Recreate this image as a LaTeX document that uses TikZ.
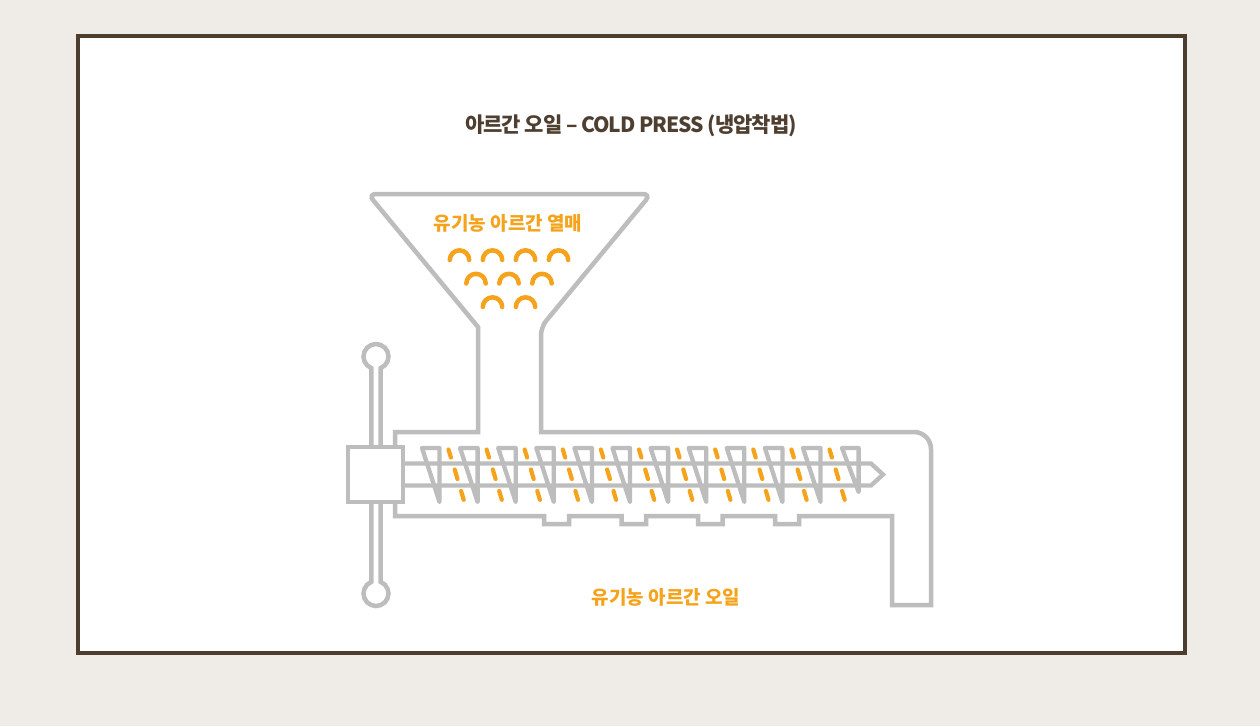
\documentclass[tikz,border=0pt]{standalone}
\usepackage{fontspec}
\newfontfamily\kr{Noto Sans CJK KR}
\newfontfamily\krt[LetterSpace=-5]{Noto Sans CJK KR}
\definecolor{bgc}{HTML}{EFECE7}
\definecolor{framec}{HTML}{4C3D2E}
\definecolor{titlec}{HTML}{4E3F31}
\definecolor{grayc}{HTML}{BDBDBD}
\definecolor{orangec}{HTML}{F5A31C}
\tikzset{
  machine/.style={draw=grayc, line width=4.5pt, line join=miter},
  blade/.style={draw=grayc, line width=4.3pt, line join=round},
  seed/.style={draw=orangec, line width=4.5pt, line cap=round},
  oil/.style={draw=orangec, line width=4.2pt, line cap=round},
  label/.style={text=orangec, font=\kr\bfseries\fontsize{19}{22}\selectfont, inner sep=0pt},
  titletext/.style={text=titlec, font=\krt\bfseries\fontsize{21}{24}\selectfont, inner sep=0pt}
}
\begin{document}
\begin{tikzpicture}[x=1pt,y=-1pt]
\useasboundingbox (0,0) rectangle (1260,726);
\fill[bgc] (0,0) rectangle (1260,726);
\draw[framec, line width=4pt, fill=white] (78,36) rectangle (1185,653);
\node[titletext] (title) at (631,126) {아르간 오일 – COLD PRESS (냉압착법)};
% housing with hopper
\draw[machine] (395,447) -- (395,432) -- (478,432) -- (478,327)
  [rounded corners=8pt] -- (368,194) -- (651,194) -- (541,327) [sharp corners]
  -- (541,432) -- (914,432) arc[start angle=90, end angle=0, radius=17pt]
  -- (931,605) -- (892,605) -- (892,516)
  -- (799,516) -- (799,524) -- (775,524) -- (775,516)
  -- (722.5,516) -- (722.5,524) -- (698,524) -- (698,516)
  -- (646,516) -- (646,524) -- (621.5,524) -- (621.5,516)
  -- (569,516) -- (569,524) -- (544,524) -- (544,516)
  -- (395,516) -- (395,502);
% labels
\node[label] (seedlabel) at (508,223) {유기농 아르간 열매};
\node[label] (oillabel) at (666,597) {유기농 아르간 오일};
% seeds
\foreach \cx in {459.5,492.5,525.5,558.5} \draw[seed] (\cx-9.7,260) arc[start angle=180, end angle=0, radius=9.7pt];
\foreach \cx in {476,509,542} \draw[seed] (\cx-9.7,283.5) arc[start angle=180, end angle=0, radius=9.7pt];
\foreach \cx in {492.5,525.5} \draw[seed] (\cx-9.7,307) arc[start angle=180, end angle=0, radius=9.7pt];
% shaft
\draw[blade, line join=miter] (403,463.5) -- (871,463.5) -- (883,474.5) -- (871,485.5) -- (403,485.5);
% blades
\foreach \i in {0,...,10} {
  \pgfmathsetmacro{\xr}{439.5+38.1*\i}
  \draw[blade] (\xr-17.5,448) -- (\xr,448) -- (\xr,502) -- cycle;
}
\draw[blade] (842,448) -- (858.6,448) -- (858.6,492) -- cycle;
% oil dashes
\foreach \j in {0,...,10} {
  \pgfmathsetmacro{\xo}{448.5+38.1*\j}
  \draw[oil] (\xo,449.5) -- (\xo+2.4,457.5);
  \draw[oil] (\xo+6.2,469.5) -- (\xo+9.0,479);
  \draw[oil] (\xo+12.6,491) -- (\xo+15.2,499.8);
}
% handle rods
\draw[machine] (371.3,447) -- (371.3,368.1) arc[start angle=248, end angle=-68, radius=12.5pt] -- (380.7,447);
\draw[machine] (371.3,502) -- (371.3,581.9) arc[start angle=112, end angle=428, radius=12.5pt] -- (380.7,502);
% box
\node[machine, fill=white, minimum width=55pt, minimum height=55pt, inner sep=0pt] (box) at (375.5,474.5) {};
\end{tikzpicture}
\end{document}
